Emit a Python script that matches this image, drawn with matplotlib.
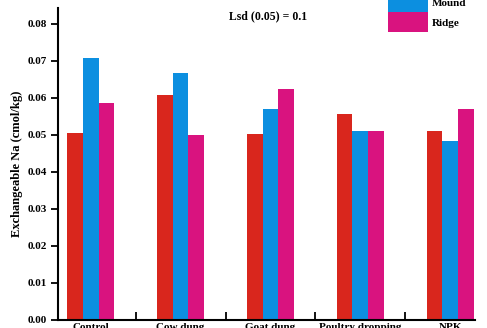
import numpy as np
import matplotlib
matplotlib.use("Agg")
import matplotlib.pyplot as plt

# Exchangeable Na (cmol/kg) per amendment and seedbed type
treatments = ["Control", "Cow dung", "Goat dung", "Poultry dropping", "NPK"]
flat = [0.0505, 0.0608, 0.0502, 0.0556, 0.0512]
mound = [0.0707, 0.0667, 0.0569, 0.0512, 0.0483]
ridge = [0.0585, 0.0501, 0.0625, 0.0512, 0.0571]

colors = ["#d9261d", "#0c8fe0", "#d9137f"]

plt.rcParams["font.family"] = ["Liberation Serif", "DejaVu Serif"]
plt.rcParams["font.weight"] = "bold"

fig = plt.figure(figsize=(4.87, 3.28), dpi=100)
ax = fig.add_axes([0.119, 0.0244, 0.856, 0.9512])

x = np.arange(len(treatments))
w = 0.175
ax.bar(x - w, flat, w, color=colors[0], label="Flat")
ax.bar(x, mound, w, color=colors[1], label="Mound")
ax.bar(x + w, ridge, w, color=colors[2], label="Ridge")

ax.set_xlim(-0.365, 4.274)
ax.set_ylim(0, 0.0843)
ax.set_yticks(np.arange(0, 0.081, 0.01))
ax.set_yticklabels([f"{v:.2f}" for v in np.arange(0, 0.081, 0.01)], fontsize=8, fontweight="bold")
ax.set_ylabel("Exchangeable Na (cmol/kg)", fontsize=9, fontweight="bold", labelpad=3)

# category names at group centres, separator ticks between groups
ax.set_xticks(x)
ax.set_xticklabels(treatments, fontsize=8, fontweight="bold")
ax.tick_params(axis="x", which="major", length=0, pad=2)
ax.set_xticks(x[:-1] + 0.5, minor=True)
ax.tick_params(axis="x", which="minor", direction="in", length=6, width=1.3)
ax.tick_params(axis="y", direction="out", length=5, width=1.3, pad=3)

for side in ["top", "right"]:
    ax.spines[side].set_visible(False)
for side in ["left", "bottom"]:
    ax.spines[side].set_linewidth(1.5)

ax.text(0.504, 0.972, "Lsd (0.05) = 0.1", transform=ax.transAxes,
        fontsize=8.5, fontweight="bold", ha="center", va="center")

fig.legend(loc="upper left", bbox_to_anchor=(0.797, 1.085), bbox_transform=fig.transFigure,
           frameon=False, fontsize=8, handlelength=3.6, handleheight=2.4,
           handletextpad=0.36, labelspacing=0, borderpad=0, borderaxespad=0)

fig.savefig("out.png", dpi=100)
